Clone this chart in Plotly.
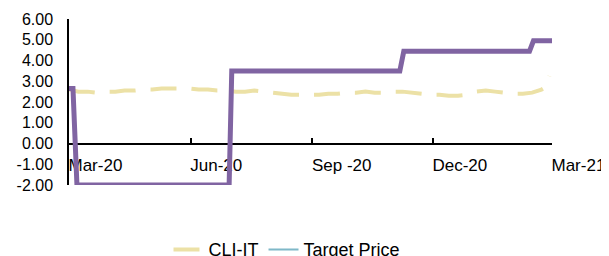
import plotly.graph_objects as go

# CLI-IT (weekly readings)
cli_dates = [
    "2020-03-01","2020-03-08","2020-03-15","2020-03-22","2020-03-29",
    "2020-04-05","2020-04-12","2020-04-19","2020-04-26",
    "2020-05-03","2020-05-10","2020-05-17","2020-05-24","2020-05-31",
    "2020-06-07","2020-06-14","2020-06-21","2020-06-28",
    "2020-07-05","2020-07-12","2020-07-19","2020-07-26",
    "2020-08-02","2020-08-09","2020-08-16","2020-08-23","2020-08-30",
    "2020-09-06","2020-09-13","2020-09-20","2020-09-27",
    "2020-10-04","2020-10-11","2020-10-18","2020-10-25",
    "2020-11-01","2020-11-08","2020-11-15","2020-11-22","2020-11-29",
    "2020-12-06","2020-12-13","2020-12-20","2020-12-27",
    "2021-01-03","2021-01-10","2021-01-17","2021-01-24","2021-01-31",
    "2021-02-07","2021-02-14","2021-02-21","2021-02-25","2021-02-27",
]
cli_values = [
    2.60, 2.50, 2.50, 2.45, 2.50,
    2.50, 2.55, 2.55, 2.60,
    2.60, 2.65, 2.65, 2.65, 2.65,
    2.60, 2.60, 2.55, 2.55,
    2.50, 2.50, 2.55, 2.50,
    2.45, 2.40, 2.35, 2.35, 2.35,
    2.35, 2.40, 2.40, 2.45,
    2.45, 2.50, 2.45, 2.45,
    2.50, 2.50, 2.45, 2.40, 2.35,
    2.35, 2.30, 2.30, 2.35,
    2.50, 2.55, 2.50, 2.45, 2.40,
    2.40, 2.45, 2.60, 2.75, 3.25,
]

# Target Price (step series)
tp_dates = ["2020-03-01","2020-03-04","2020-03-07","2020-06-30","2020-07-02",
            "2020-11-06","2020-11-09","2021-02-12","2021-02-15","2021-03-02"]
tp_values = [2.65, 2.65, -2.0, -2.0, 3.5, 3.5, 4.45, 4.45, 4.95, 4.95]

tick_vals = ["2020-03-01","2020-06-01","2020-09-01","2020-12-01","2021-03-01"]
tick_text = ["Mar-20","Jun-20","Sep -20","Dec-20","Mar-21"]
y_ticks = [-2, -1, 0, 1, 2, 3, 4, 5, 6]
y_tick_text = ["-2.00", "-1.00", "0.00", "1.00", "2.00", "3.00", "4.00", "5.00", "6.00"]

fig = go.Figure()
fig.add_trace(go.Scatter(x=cli_dates, y=cli_values, name="CLI-IT", mode="lines",
                         line=dict(color="#ECE1A6", width=4, dash="26px,15px")))
fig.add_trace(go.Scatter(x=tp_dates, y=tp_values, name="Target Price", mode="lines",
                         line=dict(color="#7FB8C8", width=2)))
fig.add_trace(go.Scatter(x=tp_dates, y=tp_values, name="Rating", mode="lines",
                         showlegend=False,
                         line=dict(color="#8064A2", width=5)))

fig.update_layout(
    width=601, height=248,
    margin=dict(l=61, r=57, t=11, b=71, autoexpand=False),
    paper_bgcolor="white", plot_bgcolor="white",
    font=dict(family="Liberation Sans, Arial", size=18, color="black"),
    showlegend=True,
    legend=dict(orientation="h", x=0.206, xanchor="left", y=-0.39, yanchor="middle",
                font=dict(size=18), bgcolor="rgba(0,0,0,0)"),
    xaxis=dict(type="date", range=["2020-03-01","2021-03-01"],
               tickvals=tick_vals, ticktext=tick_text, tickfont=dict(size=17),
               showgrid=False, showline=True, linecolor="black", linewidth=1.5,
               ticks="inside", ticklen=5, tickcolor="black", tickwidth=1.5,
               anchor="free", position=0.25, ticklabelposition="outside right",
               ticklabelstandoff=6, ticklabelshift=-2, ticklabeloverflow="allow",
               automargin=False, layer="below traces", zeroline=False),
    yaxis=dict(range=[-2, 6], tickvals=y_ticks, ticktext=y_tick_text,
               tickfont=dict(size=16),
               showgrid=False, showline=True, linecolor="black", linewidth=1.5,
               ticks="", ticklabelstandoff=11, zeroline=False, automargin=False,
               layer="below traces"),
)

fig.write_html("out.html")
